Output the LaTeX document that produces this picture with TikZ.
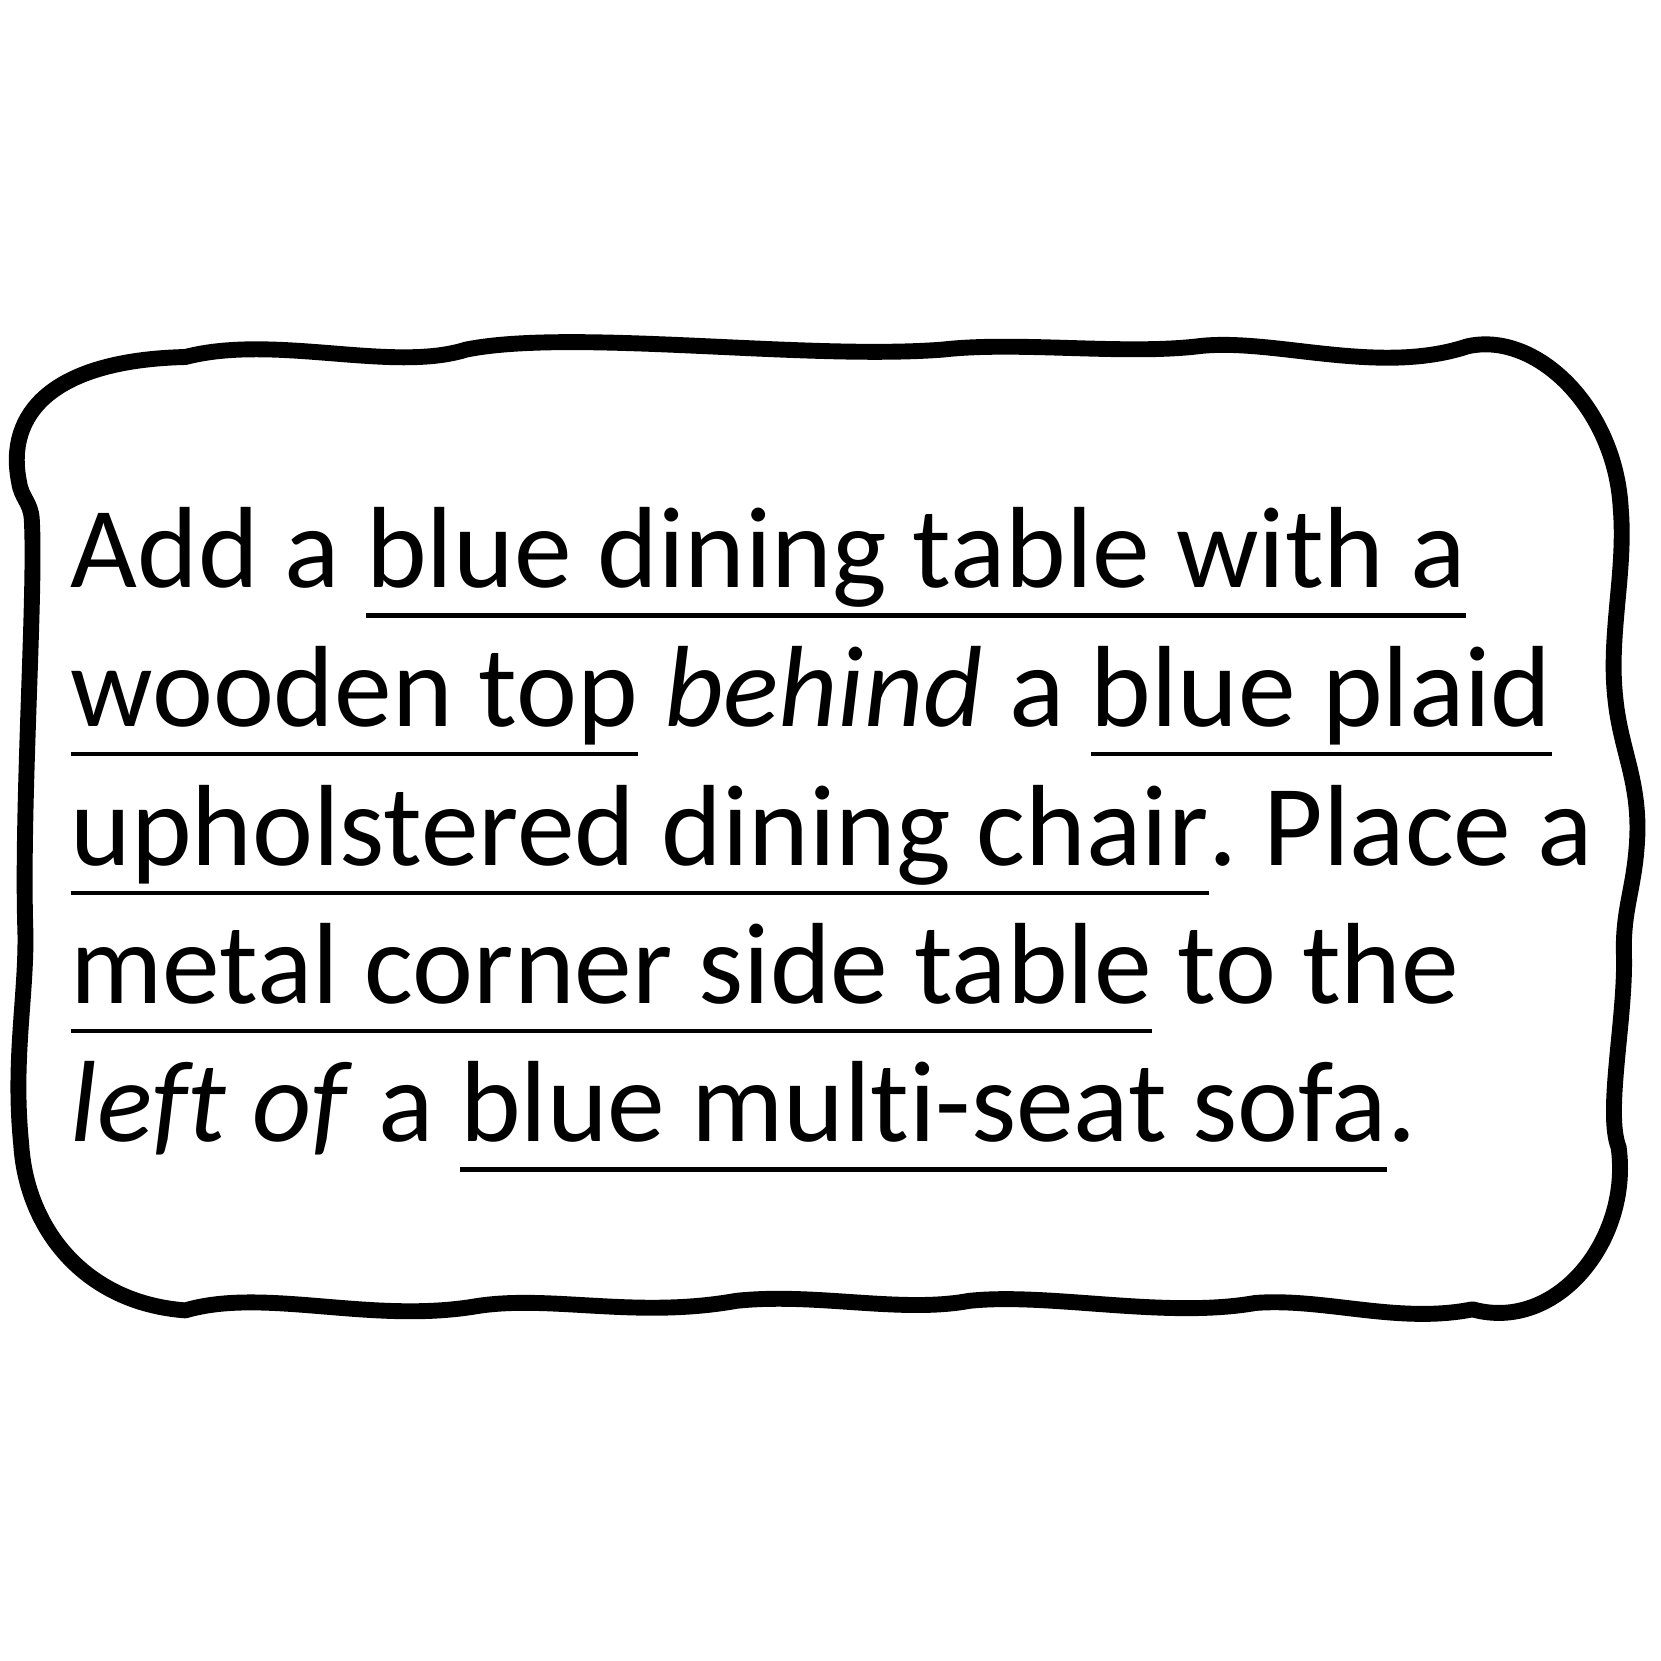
\documentclass[tikz,border=0pt]{standalone}
\usepackage{fontspec}
\setmainfont{Carlito}[Ligatures=NoCommon]
\usepackage{tikz}
\frenchspacing
\newcommand{\uword}[1]{\setbox0\hbox{#1}\rlap{\rule[-0.28cm]{\wd0}{0.04cm}}\box0\relax}
\tikzstyle{textline} = [anchor=base west, inner sep=0pt, font=\fontsize{31}{36}\selectfont]
\tikzstyle{frame} = [line width=0.15cm, line join=round]

\begin{document}
\begin{tikzpicture}[x=0.01cm, y=-0.01cm]
                        \useasboundingbox (0,0) rectangle (1568,1568);
                        % wavy frame
                        \draw [frame] (175,337) .. controls (260,315) and (370,352) .. (440,330)
                            .. controls (540,310) and (760,340) .. (890,330)
                            .. controls (960,322) and (1060,335) .. (1130,327)
                            .. controls (1200,318) and (1300,355) .. (1385,327)
                            .. controls (1450,312) and (1525,385) .. (1530,480)
                            .. controls (1535,540) and (1518,600) .. (1525,660)
                            .. controls (1530,710) and (1550,740) .. (1545,800)
                            .. controls (1542,840) and (1532,860) .. (1533,900)
                            .. controls (1535,960) and (1515,1050) .. (1528,1083)
                            .. controls (1540,1170) and (1470,1258) .. (1390,1236)
                            .. controls (1320,1250) and (1250,1225) .. (1185,1230)
                            .. controls (1100,1245) and (990,1220) .. (915,1228)
                            .. controls (850,1240) and (770,1220) .. (695,1228)
                            .. controls (600,1245) and (520,1222) .. (450,1233)
                            .. controls (350,1250) and (250,1215) .. (175,1237)
                            .. controls (80,1230) and (25,1160) .. (20,1080)
                            .. controls (12,1000) and (25,940) .. (24,880)
                            .. controls (20,760) and (34,560) .. (30,490)
                            .. controls (29,474) and (20,470) .. (18,455)
                            .. controls (5,390) and (50,340) .. cycle;
                        % text lines
                        \node (line1) [textline] at (66,555) {Add a \uword{blue dining table with a}};
                        \node (line2) [textline] at (66,686) {\uword{wooden top} \textit{behind} a \uword{blue plaid}};
                        \node (line3) [textline] at (66,817) {\uword{upholstered dining chair}. Place a};
                        \node (line4) [textline] at (66,947) {\uword{metal corner side table} to the};
                        \node (line5) [textline] at (66,1078) {\textit{left of} a \uword{blue multi-seat sofa}.};
                    \end{tikzpicture}
\end{document}
